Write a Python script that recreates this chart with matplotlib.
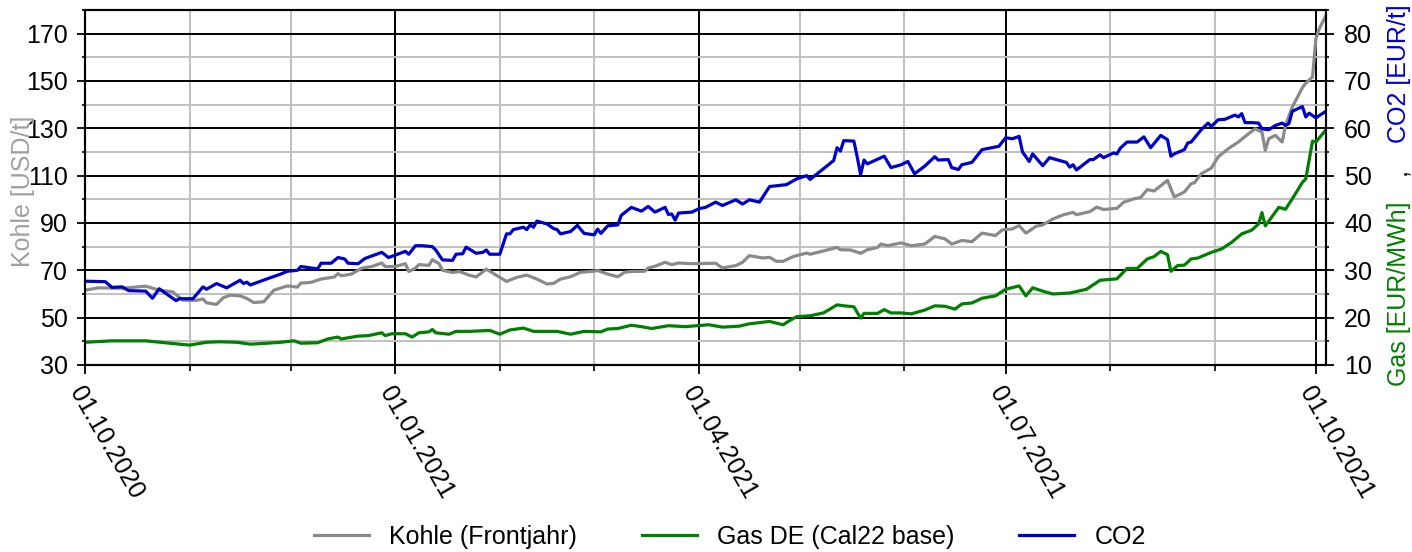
import numpy as np
import matplotlib
matplotlib.use("Agg")
import matplotlib.pyplot as plt
import matplotlib.dates as mdates
from matplotlib.ticker import MultipleLocator
from matplotlib.lines import Line2D

plt.rcParams['font.family'] = ['Liberation Sans', 'DejaVu Sans']

# ---------------- data ----------------
start_date = np.datetime64('2020-10-01')
end_date = np.datetime64('2021-10-04')

# Kohle (Frontjahr), USD/t  -- day offsets from 01.10.2020
coal_days = [0, 4, 11, 18, 22, 26, 29, 33, 35, 36, 39, 41, 43, 46, 48, 50, 53, 56, 60, 63,
             64, 67, 70, 74, 75, 76, 79, 82, 85, 88, 89, 92, 95, 96, 98, 99, 102, 103, 105, 106,
             109, 111, 114, 116, 119, 122, 125, 128, 131, 134, 137, 139, 141, 144, 147, 150, 152, 155, 158, 160,
             162, 166, 167, 169, 172, 174, 176, 180, 187, 189, 193, 195, 197, 201, 203, 205, 207, 210, 214, 215,
             219, 223, 224, 227, 230, 232, 235, 236, 238, 242, 245, 249, 252, 255, 257, 260, 263, 266, 270, 272,
             275, 277, 279, 282, 284, 287, 290, 293, 294, 298, 300, 302, 306, 308, 311, 313, 315, 317, 321, 323,
             326, 328, 329, 331, 334, 336, 339, 342, 345, 347, 349, 350, 351, 353, 355, 356, 358, 361, 362, 364,
             365, 366, 368]
coal_usd = [61.6, 62.6, 62.4, 63.3, 61.6, 60.9, 57.4, 57.3, 57.9, 56.3, 55.6, 58.4, 59.5, 59.2, 58.1, 56.4, 56.7, 61.6, 63.4, 62.9,
            64.6, 64.9, 66.3, 67.2, 68.6, 67.7, 68.4, 70.9, 71.6, 73.1, 71.6, 71.6, 72.8, 69.5, 70.9, 72.4, 72.1, 74.5, 72.8, 70.0,
            69.1, 69.5, 67.9, 67.2, 70.5, 67.9, 65.3, 67.0, 68.0, 66.3, 64.2, 64.5, 66.3, 67.3, 69.2, 69.5, 69.9, 68.4, 67.3, 69.2,
            69.5, 69.6, 71.0, 71.7, 73.4, 72.4, 73.1, 72.8, 73.0, 71.0, 72.0, 73.4, 76.2, 75.2, 75.5, 73.8, 73.8, 75.8, 77.3, 76.8,
            78.2, 79.7, 78.7, 78.6, 77.2, 78.7, 79.7, 81.1, 80.4, 81.6, 80.4, 81.1, 84.3, 83.3, 81.1, 82.6, 82.1, 85.7, 84.7, 87.1,
            87.5, 88.9, 85.7, 88.6, 89.2, 91.7, 93.4, 94.5, 93.5, 94.8, 96.7, 95.7, 96.2, 98.8, 100.2, 100.7, 104.1, 103.5, 108.0, 101.0,
            103.1, 106.6, 107.0, 110.8, 113.2, 117.9, 121.4, 124.2, 127.7, 129.8, 128.4, 120.7, 125.6, 127.0, 124.2, 131.3, 139.0, 147.2, 149.1, 151.7,
            167.9, 172.1, 177.7]

# Gas DE (Cal22 base), EUR/MWh
gas_days = [0, 8, 18, 28, 31, 36, 40, 45, 49, 54, 58, 62, 64, 69, 72, 75, 76, 81, 84, 88,
            89, 91, 95, 97, 99, 102, 103, 104, 108, 110, 114, 120, 123, 126, 130, 133, 140, 144, 148, 153,
            155, 158, 162, 165, 168, 173, 178, 185, 189, 194, 197, 203, 207, 209, 211, 215, 219, 223, 225, 228,
            230, 231, 235, 237, 239, 242, 245, 249, 252, 255, 258, 260, 263, 266, 270, 273, 277, 279, 281, 284,
            287, 292, 297, 301, 306, 309, 312, 315, 317, 319, 321, 322, 324, 326, 328, 330, 334, 337, 340, 343,
            346, 348, 349, 350, 354, 356, 358, 361, 362, 364, 365, 368]
gas_eur = [14.8, 15.1, 15.1, 14.4, 14.2, 14.8, 14.9, 14.8, 14.4, 14.6, 14.8, 15.1, 14.6, 14.7, 15.5, 15.9, 15.5, 16.1, 16.2, 16.8,
           16.2, 16.6, 16.6, 15.9, 16.8, 17.0, 17.5, 16.8, 16.5, 17.1, 17.1, 17.3, 16.5, 17.4, 17.8, 17.1, 17.1, 16.5, 17.1, 17.0,
           17.6, 17.7, 18.4, 18.1, 17.7, 18.3, 18.1, 18.5, 18.0, 18.2, 18.7, 19.2, 18.5, 19.4, 20.2, 20.4, 21.0, 22.7, 22.5, 22.3,
           19.9, 20.9, 20.9, 21.7, 21.0, 21.0, 20.8, 21.6, 22.5, 22.4, 21.8, 22.9, 23.1, 24.1, 24.6, 26.0, 26.7, 24.6, 26.3, 25.6,
           25.0, 25.2, 26.0, 27.9, 28.2, 30.4, 30.4, 32.4, 32.9, 34.0, 33.3, 29.8, 31.0, 31.1, 32.4, 32.6, 33.8, 34.5, 35.9, 37.7,
           38.5, 39.8, 42.2, 39.4, 43.3, 42.9, 45.1, 48.6, 49.3, 57.3, 57.1, 59.7]

# CO2, EUR/t
co2_days = [0, 6, 8, 11, 13, 18, 20, 22, 25, 27, 28, 32, 35, 36, 39, 42, 46, 47, 48, 49,
            54, 58, 60, 63, 64, 69, 70, 73, 75, 77, 78, 81, 83, 88, 90, 95, 96, 98, 100, 103,
            104, 106, 109, 110, 112, 113, 116, 118, 119, 120, 123, 125, 126, 127, 130, 131, 132, 133, 134, 137,
            139, 140, 141, 144, 146, 148, 151, 152, 153, 155, 158, 159, 162, 165, 167, 169, 172, 173, 174, 175,
            176, 180, 182, 184, 187, 189, 193, 195, 197, 200, 203, 208, 211, 214, 215, 218, 222, 223, 224, 225,
            228, 229, 230, 231, 232, 237, 239, 242, 244, 246, 249, 252, 253, 256, 257, 259, 260, 263, 266, 271,
            273, 275, 277, 278, 280, 281, 284, 286, 291, 292, 293, 294, 298, 299, 301, 302, 305, 306, 307, 309,
            312, 314, 316, 319, 321, 322, 323, 326, 327, 328, 331, 333, 334, 336, 338, 341, 342, 343, 344, 346,
            348, 349, 351, 353, 355, 356, 357, 358, 361, 362, 363, 365, 366, 368]
co2_eur = [27.7, 27.6, 26.4, 26.5, 25.7, 25.6, 24.1, 26.1, 24.6, 23.6, 24.0, 24.0, 26.5, 26.0, 27.2, 26.3, 27.9, 27.2, 27.5, 26.9,
           28.2, 29.2, 29.8, 30.0, 30.8, 30.3, 31.5, 31.5, 32.7, 32.4, 31.5, 31.4, 32.5, 33.8, 32.7, 34.0, 33.4, 35.2, 35.2, 35.0,
           34.3, 32.2, 32.1, 33.4, 33.5, 34.9, 33.6, 33.8, 34.3, 33.4, 33.4, 37.7, 37.7, 38.6, 39.1, 38.6, 39.6, 39.1, 40.4, 39.8,
           38.8, 38.6, 37.7, 38.2, 39.5, 37.8, 37.5, 38.7, 37.8, 39.4, 39.6, 41.6, 43.3, 42.5, 43.5, 42.3, 43.3, 41.8, 41.9, 40.6,
           42.1, 42.3, 43.0, 43.3, 44.4, 43.7, 44.9, 44.0, 44.9, 44.4, 47.7, 48.1, 49.3, 50.0, 49.2, 50.9, 53.2, 55.9, 55.2, 57.4,
           57.3, 53.9, 50.2, 53.3, 52.5, 54.1, 51.7, 52.3, 53.0, 50.4, 52.0, 54.0, 53.3, 53.4, 51.7, 51.3, 52.3, 52.8, 55.5, 56.2,
           58.0, 57.8, 58.3, 55.0, 53.0, 54.6, 52.1, 53.8, 52.8, 51.8, 52.3, 51.2, 53.4, 53.4, 54.4, 53.8, 54.8, 54.6, 55.8, 57.1,
           57.1, 58.2, 55.9, 58.5, 57.6, 54.1, 54.6, 55.5, 56.9, 57.1, 59.7, 61.1, 60.4, 61.8, 61.9, 62.8, 62.4, 63.1, 61.2, 61.2,
           61.1, 59.9, 59.7, 60.6, 61.1, 60.6, 61.0, 63.6, 64.6, 62.4, 63.2, 62.2, 62.7, 63.6]

series_labels = ['Kohle (Frontjahr)', 'Gas DE (Cal22 base)', 'CO2']
series_colors = ['#8a8a8a', '#008000', '#0000cc']

xtick_dates = ['2020-10-01', '2021-01-01', '2021-04-01', '2021-07-01', '2021-10-01']
xtick_labels = ['01.10.2020', '01.01.2021', '01.04.2021', '01.07.2021', '01.10.2021']
left_ticks = [30, 50, 70, 90, 110, 130, 150, 170]
right_ticks = [10, 20, 30, 40, 50, 60, 70, 80]

# ---------------- plot ----------------
def to_dates(days):
    return start_date + np.array(days).astype('timedelta64[D]')

fig = plt.figure(figsize=(14.12, 5.52), dpi=100)
ax = fig.add_axes([0.0602, 0.3388, 0.8789, 0.6431])
ax2 = ax.twinx()

FS = 18

ax.set_xlim(start_date, end_date)
ax.set_ylim(30, 180)
ax2.set_ylim(10, 85)

ax.set_yticks(left_ticks)
ax.yaxis.set_minor_locator(MultipleLocator(10))
ax2.set_yticks(right_ticks)
ax2.yaxis.set_minor_locator(MultipleLocator(5))

ax.set_xticks(np.array(xtick_dates, dtype='datetime64[D]'))
ax.set_xticklabels(xtick_labels, rotation=-60, ha='left', va='top', rotation_mode='anchor')
ax.xaxis.set_minor_locator(mdates.MonthLocator())

ax.grid(True, which='major', axis='both', color='black', lw=1.4)
ax.grid(True, which='minor', axis='both', color='#c0c0c0', lw=1.4)
ax.set_axisbelow(True)

ax.tick_params(axis='y', which='major', length=6, width=1.3, labelsize=FS, pad=6.5)
ax.tick_params(axis='y', which='minor', length=2.5, width=1.2)
ax.tick_params(axis='x', which='major', length=6.5, width=1.3, labelsize=FS, pad=6)
ax.tick_params(axis='x', which='minor', length=4, width=1.2)
ax2.tick_params(axis='y', which='major', length=6, width=1.3, labelsize=FS, pad=7)
ax2.tick_params(axis='y', which='minor', length=2.5, width=1.2)

for a in (ax, ax2):
    for s in a.spines.values():
        s.set_linewidth(1.5)
        s.set_color('black')

l1, = ax.plot(to_dates(coal_days), coal_usd, color=series_colors[0], lw=2.3)
l2, = ax2.plot(to_dates(gas_days), gas_eur, color=series_colors[1], lw=2.3)
l3, = ax2.plot(to_dates(co2_days), co2_eur, color=series_colors[2], lw=2.3)

fig.legend([l1, l2, l3], series_labels, loc='center', bbox_to_anchor=(0.517, 0.027),
           ncol=3, frameon=False, fontsize=FS, handlelength=2.2, handletextpad=0.8,
           columnspacing=2.6)

# axis labels
fig.text(30 / 1412, 1 - 191 / 552, 'Kohle [USD/t]', rotation=90, color='#a0a0a0',
         fontsize=FS, ha='center', va='baseline', rotation_mode='anchor')
fig.text(1406 / 1412, 1 - 74 / 552, 'CO2 [EUR/t]', rotation=90, color='#0000cc',
         fontsize=FS, ha='center', va='baseline', rotation_mode='anchor')
fig.text(1406 / 1412, 1 - 172 / 552, ',', rotation=90, color='black',
         fontsize=FS, ha='center', va='baseline', rotation_mode='anchor')
fig.text(1406 / 1412, 1 - 294 / 552, 'Gas [EUR/MWh]', rotation=90, color='#008000',
         fontsize=FS, ha='center', va='baseline', rotation_mode='anchor')

fig.savefig('out.png', dpi=100)
